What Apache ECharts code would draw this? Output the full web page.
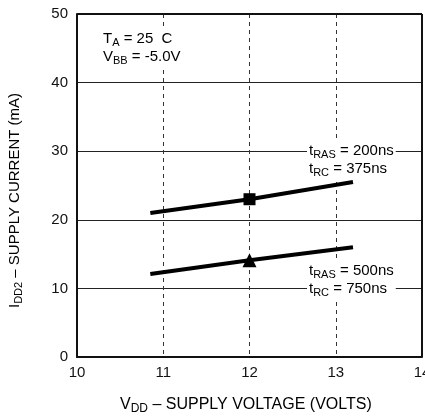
<!DOCTYPE html>
<html>
<head>
<meta charset="utf-8">
<script src="https://cdn.jsdelivr.net/npm/echarts@6/dist/echarts.min.js"></script>
<style>
  html, body { margin: 0; padding: 0; background: #fff; }
  #main { width: 425px; height: 419px; }
</style>
</head>
<body>
<div id="main"></div>
<script>
// data
var vdd = [10.85, 12, 13.2];
var fastCycle = [21.0, 23.0, 25.5];   // tRAS 200ns, tRC 375ns
var slowCycle = [12.1, 14.1, 16.0];   // tRAS 500ns, tRC 750ns
var markedAt = 12;                    // only the 12V point carries a marker

var FONT = 'Liberation Sans, Arial, sans-serif';

function pairs(xs, ys, sym) {
  return xs.map(function (x, i) {
    return { value: [x, ys[i]], symbol: x === markedAt ? sym : 'none' };
  });
}

var chart = echarts.init(document.getElementById('main'));

var sub = { fontSize: 11, verticalAlign: 'bottom', padding: [7, 0, 0, 0], fontFamily: FONT, color: '#111' };
var norm = { fontSize: 15, fontFamily: FONT, color: '#111' };
var bigNorm = { fontSize: 16, fontFamily: FONT, color: '#111' };
var bigSub = { fontSize: 12, verticalAlign: 'bottom', padding: [7, 0, 0, 0], fontFamily: FONT, color: '#111' };

function note(x, y, txt) {
  return {
    type: 'text', left: x, top: y, z: 100,
    style: {
      text: txt, lineHeight: 18,
      backgroundColor: '#fff', padding: [0, 2],
      rich: { s: sub, n: norm }
    }
  };
}

var option = {
  animation: false,
  backgroundColor: '#fff',
  grid: { left: 77, right: 3, top: 14, bottom: 62, outerBoundsMode: 'none', containLabel: false },
  xAxis: {
    type: 'value', min: 10, max: 14, interval: 1,
    axisLine: { show: true, onZero: false, lineStyle: { color: '#111', width: 2 } },
    axisTick: { show: false },
    axisLabel: { color: '#111', fontSize: 15, fontFamily: FONT, margin: 8, showMaxLabel: true },
    splitLine: { show: true, showMaxLine: false, lineStyle: { color: '#333', width: 1, type: [4, 4] } }
  },
  yAxis: {
    type: 'value', min: 0, max: 50, interval: 10,
    axisLine: { show: true, onZero: false, lineStyle: { color: '#111', width: 2 } },
    axisTick: { show: false },
    axisLabel: { color: '#111', fontSize: 15, fontFamily: FONT, margin: 9 },
    splitLine: { show: true, lineStyle: { color: '#222', width: 1 } }
  },
  series: [
    {
      type: 'line', data: pairs(vdd, fastCycle, 'rect'),
      lineStyle: { color: '#000', width: 4 },
      symbolSize: 12,
      itemStyle: { color: '#000' }
    },
    {
      type: 'line', data: pairs(vdd, slowCycle, 'triangle'),
      lineStyle: { color: '#000', width: 4 },
      symbolSize: 14,
      itemStyle: { color: '#000' }
    }
  ],
  graphic: [
    // frame top and right
    { type: 'line', shape: { x1: 77, y1: 14, x2: 422, y2: 14 }, style: { stroke: '#111', lineWidth: 2 }, z: 50 },
    { type: 'line', shape: { x1: 422, y1: 14, x2: 422, y2: 357 }, style: { stroke: '#111', lineWidth: 2 }, z: 50 },
    note(101, 30, '{n|T}{s|A}{n| = 25  C}\n{n|V}{s|BB}{n| = -5.0V}'),
    note(307, 142, '{n|t}{s|RAS}{n| = 200ns}\n{n|t}{s|RC}{n| = 375ns}'),
    note(307, 262, '{n|t}{s|RAS}{n| = 500ns}\n{n|t}{s|RC}{n| = 750ns}'),
    {
      type: 'text', left: 120, top: 397,
      style: { text: '{n|V}{s|DD}{n| \u2013 SUPPLY VOLTAGE (VOLTS)}', rich: { s: bigSub, n: bigNorm } }
    },
    {
      type: 'text', x: 6, y: 308, rotation: Math.PI / 2,
      style: { text: '{n|I}{s|DD2}{n| \u2013 SUPPLY CURRENT (mA)}', rich: { s: sub, n: norm } }
    }
  ]
};

chart.setOption(option);
</script>
</body>
</html>
